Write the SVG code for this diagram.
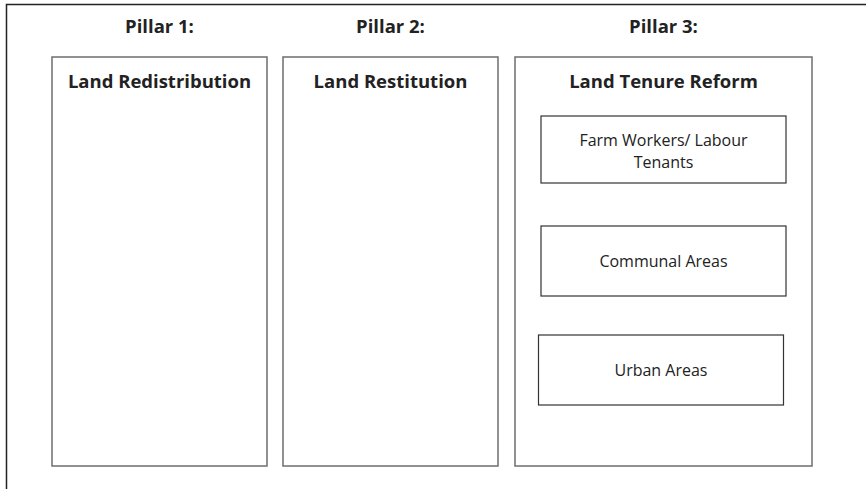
<svg xmlns="http://www.w3.org/2000/svg" width="866" height="489" viewBox="0 0 866 489">
<style>
.frame{fill:none;stroke:#222;stroke-width:1.5}
.pillar{fill:#fff;stroke:#6e6e6e;stroke-width:1.5}
.sub{fill:#fff;stroke:#333;stroke-width:1.2}
.h{font-family:"Open Sans","Liberation Sans",sans-serif;font-weight:bold;font-size:18.5px;fill:#222;text-anchor:middle}
.t{font-family:"Open Sans","Liberation Sans",sans-serif;font-size:16px;fill:#222;text-anchor:middle}
</style>
<rect width="866" height="489" fill="#fff"/>
<path class="frame" d="M6.5 489 V4.5 H866"/>
<g id="labels">
<text class="h" x="159.5" y="33">Pillar 1:</text>
<text class="h" x="390.5" y="33">Pillar 2:</text>
<text class="h" x="663.5" y="33">Pillar 3:</text>
</g>
<g id="pillar1">
<rect class="pillar" x="52" y="57" width="215" height="409"/>
<text class="h" x="159.5" y="88">Land Redistribution</text>
</g>
<g id="pillar2">
<rect class="pillar" x="283" y="57" width="215" height="409"/>
<text class="h" x="390.5" y="88">Land Restitution</text>
</g>
<g id="pillar3">
<rect class="pillar" x="515" y="57" width="297" height="409"/>
<text class="h" x="663.5" y="88">Land Tenure Reform</text>
</g>
<g id="farm">
<rect class="sub" x="541" y="116" width="245" height="67"/>
<text class="t" x="663.5" y="146">Farm Workers/ Labour</text>
<text class="t" x="663.5" y="168">Tenants</text>
</g>
<g id="communal">
<rect class="sub" x="541" y="226" width="245" height="70"/>
<text class="t" x="663.5" y="267">Communal Areas</text>
</g>
<g id="urban">
<rect class="sub" x="538.5" y="335" width="245" height="70"/>
<text class="t" x="661" y="376">Urban Areas</text>
</g>
<g id="connectors"/>
</svg>
